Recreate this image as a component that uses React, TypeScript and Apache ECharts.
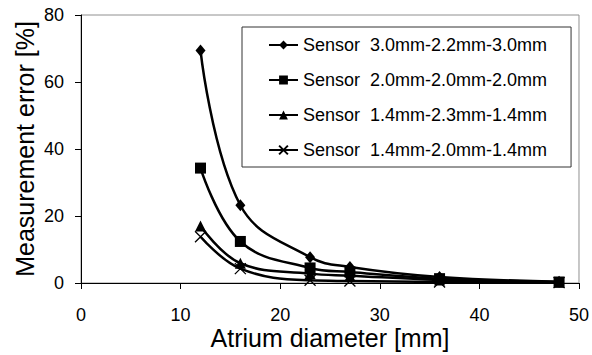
import React, { useEffect, useRef } from "react";
import * as echarts from "echarts";

const xValues = [12, 16, 23, 27, 36, 48];
const seriesNames = [
  "Sensor  3.0mm-2.2mm-3.0mm",
  "Sensor  2.0mm-2.0mm-2.0mm",
  "Sensor  1.4mm-2.3mm-1.4mm",
  "Sensor  1.4mm-2.0mm-1.4mm",
];
const sensorA = [69.4, 23.2, 7.7, 4.8, 1.8, 0.4];
const sensorB = [34.3, 12.4, 4.5, 3.3, 1.3, 0.3];
const sensorC = [17.0, 5.9, 2.8, 2.2, 0.9, 0.2];
const sensorD = [13.8, 4.3, 0.8, 0.6, 0.3, 0.1];
const xTicks = [0, 10, 20, 30, 40, 50];
const yTicks = [0, 20, 40, 60, 80];

const FONT = 'Arial, "Liberation Sans", sans-serif';
const CROSS = "path://M0,0L10,10M0,10L10,0";

export default function App() {
  const ref = useRef<HTMLDivElement>(null);
  useEffect(() => {
    if (!ref.current) return;
    const chart = echarts.init(ref.current, null, { renderer: "svg" });
    const values = [sensorA, sensorB, sensorC, sensorD];
    const symbols = ["diamond", "rect", "triangle", CROSS];
    const sizes: any[] = [[10, 12], 11, 11, 11];
    const series = values.map((vals, i) => ({
      name: seriesNames[i],
      type: "line",
      data: xValues.map((x, j) => [x, vals[j]]),
      smooth: 0.4,
      symbol: symbols[i],
      symbolSize: sizes[i],
      showSymbol: true,
      lineStyle: { color: "#000", width: 2.5 },
      itemStyle: {
        color: "#000",
        borderColor: "#000",
        borderWidth: i === 3 ? 1.3 : 0,
      },
      z: 2 + i,
    }));
    chart.setOption({
      animation: false,
      backgroundColor: "#fff",
      textStyle: { fontFamily: FONT, color: "#000" },
      grid: {
        left: 81,
        right: 13,
        top: 15,
        bottom: 69,
        show: true,
        borderColor: "#909090",
        borderWidth: 1,
        backgroundColor: "transparent",
      },
      legend: {
        orient: "vertical",
        left: 242,
        top: 27,
        padding: [8, 24, 7, 26],
        itemWidth: 29,
        itemHeight: 11,
        itemGap: 15,
        backgroundColor: "#fff",
        borderColor: "#333",
        borderWidth: 1,
        borderRadius: 0,
        textStyle: { fontFamily: FONT, fontSize: 18, color: "#000", lineHeight: 20 },
        data: seriesNames,
      },
      xAxis: {
        type: "value",
        min: xTicks[0],
        max: xTicks[xTicks.length - 1],
        interval: 10,
        name: "Atrium diameter [mm]",
        nameLocation: "middle",
        nameGap: 42,
        nameMoveOverlap: false,
        nameTextStyle: { fontFamily: FONT, fontSize: 25, color: "#000" },
        axisLine: { show: true, lineStyle: { color: "#000", width: 1 } },
        axisTick: { show: true, inside: false, length: 6, lineStyle: { color: "#000" } },
        axisLabel: { fontFamily: FONT, fontSize: 18, color: "#000", margin: 23 },
        splitLine: { show: false },
      },
      yAxis: {
        type: "value",
        min: yTicks[0],
        max: yTicks[yTicks.length - 1],
        interval: 20,
        name: "Measurement error [%]",
        nameLocation: "middle",
        nameGap: 44,
        nameMoveOverlap: false,
        nameTextStyle: { fontFamily: FONT, fontSize: 25, color: "#000" },
        axisLine: { show: true, lineStyle: { color: "#000", width: 1 } },
        axisTick: { show: true, inside: false, length: 6, lineStyle: { color: "#000" } },
        axisLabel: { fontFamily: FONT, fontSize: 18, color: "#000", margin: 17 },
        splitLine: { show: false },
      },
      series,
    });
    return () => chart.dispose();
  }, []);
  return (
    <div
      ref={ref}
      style={{ position: "absolute", left: 0, top: 0, width: 592, height: 355 }}
    />
  );
}
